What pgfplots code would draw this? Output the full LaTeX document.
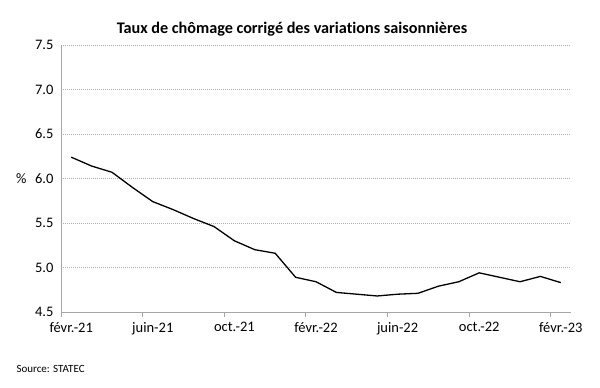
\documentclass[border=0pt]{standalone}
\usepackage{pgfplots}
\pgfplotsset{compat=1.18}
\usepackage{fontspec}
\setmainfont{Carlito}[Ligatures=NoCommon]
\definecolor{axgray}{HTML}{A6A6A6}
\definecolor{gridgray}{HTML}{B0B0B0}
\pgfplotstableread{
m v
0 6.24
1 6.14
2 6.07
3 5.90
4 5.74
5 5.65
6 5.55
7 5.46
8 5.30
9 5.20
10 5.16
11 4.89
12 4.84
13 4.72
14 4.70
15 4.68
16 4.70
17 4.71
18 4.79
19 4.84
20 4.94
21 4.89
22 4.84
23 4.90
24 4.83
}\datatable
\begin{document}
\begin{tikzpicture}
\begin{axis}[
  name=ax,
  scale only axis,
  width=510pt, height=267pt,
  xmin=-0.5, xmax=24.5,
  ymin=4.5, ymax=7.5,
  axis x line*=bottom,
  axis y line*=left,
  axis line style={draw=axgray, line width=0.8pt},
  xtick={-0.5,3.5,...,23.5},
  xticklabels={févr.-21,juin-21,oct.-21,févr.-22,juin-22,oct.-22,févr.-23},
  xticklabel style={xshift=10.2pt, yshift=-2pt, font=\fontsize{14.5}{17}\selectfont},
  tick align=outside,
  major tick length=5pt,
  xtick style={draw=axgray, line width=0.8pt},
  ytick={4.5,5.0,...,7.5},
  yticklabel style={xshift=1pt, /pgf/number format/fixed, /pgf/number format/fixed zerofill, /pgf/number format/precision=1, font=\fontsize{14.5}{17}\selectfont},
  /pgf/number format/assume math mode=true,
  ytick style={draw=none},
  ymajorgrids,
  major grid style={draw=gridgray, dash pattern=on 1pt off 1pt, line width=0.6pt},
  title={\bfseries Taux de chômage corrigé des variations saisonnières},
  title style={at={(0.453,1)}, anchor=base, yshift=5pt, font=\fontsize{16.2}{19}\selectfont},
  clip=false,
]
\addplot[black, line width=1.3pt, mark=none] table[x=m, y=v] {\datatable};
\end{axis}
\node[anchor=east, font=\fontsize{14.5}{17}\selectfont] at ([xshift=-31pt]ax.west) {\%};
\node[anchor=base west, font=\fontsize{11}{13}\selectfont] at ([shift={(-48pt,-61pt)}]ax.south west) {Source: STATEC};
\pgfresetboundingbox
\path[use as bounding box] ([shift={(-61pt,-76pt)}]ax.south west) rectangle ++(600pt,388pt);
\end{tikzpicture}
\end{document}
